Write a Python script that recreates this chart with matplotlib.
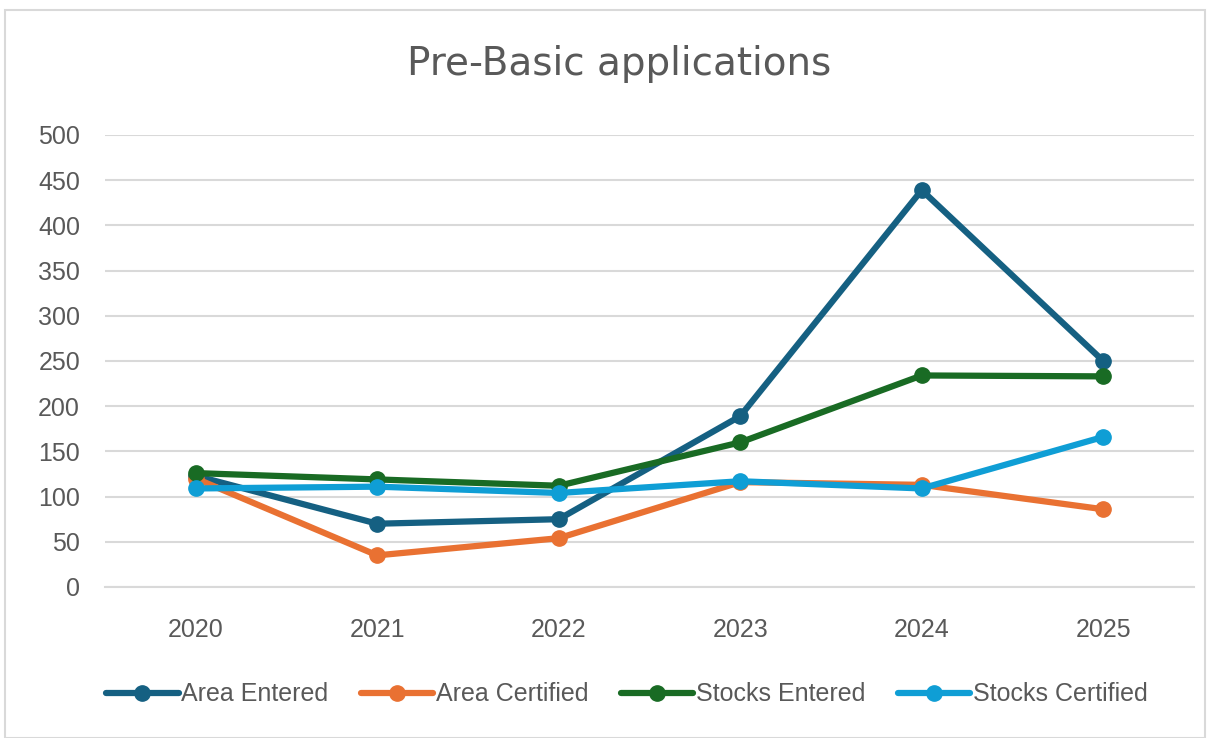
import matplotlib.pyplot as plt
from matplotlib.patches import Rectangle

# data
years = ['2020', '2021', '2022', '2023', '2024', '2025']
area_entered = [123, 70, 75, 189, 439, 250]
area_certified = [120, 35, 54, 116, 113, 86]
stocks_entered = [126, 119, 112, 160, 234, 233]
stocks_certified = [109, 111, 104, 117, 109, 166]

series = [
    ('Area Entered', area_entered, '#156082'),
    ('Area Certified', area_certified, '#E97132'),
    ('Stocks Entered', stocks_entered, '#196B24'),
    ('Stocks Certified', stocks_certified, '#0F9ED5'),
]

txt = '#595959'
plt.rcParams['font.family'] = ['Liberation Sans', 'DejaVu Sans']

fig = plt.figure(figsize=(12.1, 7.38), dpi=100)
fig.patches.append(Rectangle((5 / 1210, 0), 1200 / 1210, 728 / 738, transform=fig.transFigure,
                             fill=False, edgecolor='#D9D9D9', linewidth=1.5))

ax = fig.add_axes([105 / 1210, 1 - 587 / 738, 1089 / 1210, 452 / 738])
x = range(len(years))
for name, vals, col in series:
    ax.plot(x, vals, color=col, linewidth=4.5, marker='o', markersize=11,
            solid_capstyle='round', label=name)

ax.set_xlim(-0.5, 5.5)
ax.set_ylim(0, 500)
ax.set_yticks(range(0, 501, 50))
ax.set_xticks(list(x))
ax.set_xticklabels(years)
ax.grid(axis='y', color='#D9D9D9', linewidth=1.5)
ax.set_axisbelow(True)
for s in ax.spines.values():
    s.set_visible(False)
ax.spines['bottom'].set_visible(True)
ax.spines['bottom'].set_color('#D9D9D9')
ax.spines['bottom'].set_linewidth(1.5)
ax.tick_params(length=0, labelsize=18, colors=txt)
ax.tick_params(axis='y', pad=18)
ax.tick_params(axis='x', pad=22)

fig.text(0.512, 0.913, 'Pre-Basic applications', ha='center', va='center', fontsize=28,
         color=txt, family=['DejaVu Sans'])

leg = fig.legend(loc='center', bbox_to_anchor=(0.518, 0.059), ncol=4, frameon=False,
                 fontsize=18, handlelength=2.9, handletextpad=0.1, columnspacing=1.3)
for t in leg.get_texts():
    t.set_color(txt)

fig.savefig('out.png', dpi=100)
